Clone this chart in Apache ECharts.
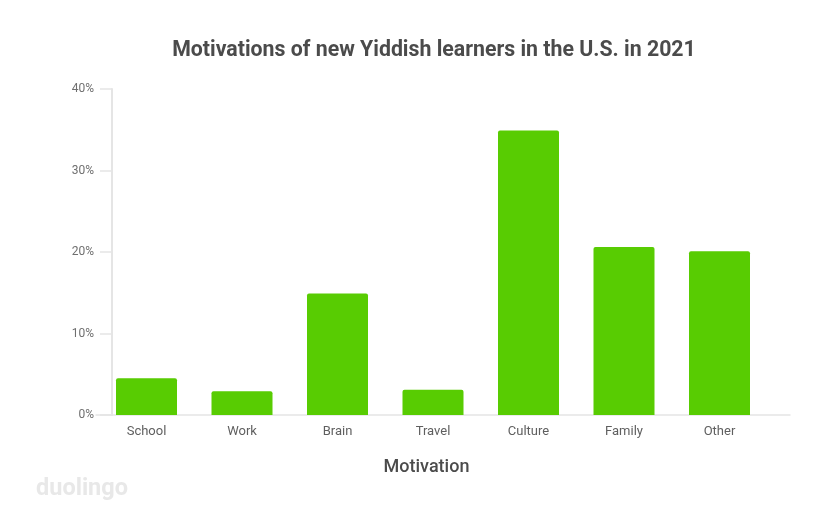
<!DOCTYPE html>
<html>
<head>
<meta charset="utf-8">
<script src="https://cdn.jsdelivr.net/npm/echarts@6/dist/echarts.min.js"></script>
<style>html,body{margin:0;padding:0;background:#fff}#c{width:828px;height:523px}</style>
</head>
<body>
<div id="c"></div>
<script>
const categories = ['School', 'Work', 'Brain', 'Travel', 'Culture', 'Family', 'Other'];
const shares = [4.5, 2.9, 14.9, 3.1, 34.9, 20.6, 20.1];
const yTicks = [0, 10, 20, 30, 40];

const chart = echarts.init(document.getElementById('c'), null, {renderer: 'canvas'});
const FONT = 'Roboto';
chart.setOption({
  animation: false,
  backgroundColor: '#ffffff',
  title: {
    text: 'Motivations of new Yiddish learners in the U.S. in 2021',
    left: 429, top: 35, textAlign: 'center',
    textStyle: {fontFamily: FONT, fontSize: 21.3, fontWeight: 'bold', color: '#4b4b4b'}
  },
  graphic: [{
    type: 'text', left: 36, top: 477,
    style: {text: 'duolingo', fontFamily: FONT, fontSize: 23.5, fontWeight: 'bold', fill: '#e8e8e8'}
  }],
  grid: [
    {left: 98.75, right: 60.75, top: 89, bottom: 108},
    {left: 96, right: 38, top: 89, bottom: 108}
  ],
  xAxis: [{
    type: 'category', gridIndex: 0, data: categories,
    axisLine: {show: false}, axisTick: {show: false},
    axisLabel: {margin: 10, fontFamily: FONT, fontSize: 13, color: '#5f5f5f'},
    name: 'Motivation', nameLocation: 'middle', nameGap: 43,
    nameTextStyle: {fontFamily: FONT, fontSize: 18, fontWeight: 500, color: '#4b4b4b', padding: [0, 13, 0, 0]}
  }, {
    type: 'category', gridIndex: 1, data: categories,
    axisLine: {show: true, lineStyle: {color: '#e5e5e5', width: 1.5}},
    axisTick: {show: false}, axisLabel: {show: false}
  }],
  yAxis: [{
    type: 'value', gridIndex: 0, min: 0, max: 40, interval: 10, offset: -13.25,
    axisLine: {show: true, lineStyle: {color: '#e5e5e5', width: 2}},
    axisTick: {show: true, length: 12, lineStyle: {color: '#e5e5e5', width: 1.5}},
    splitLine: {show: false},
    axisLabel: {margin: 18, fontFamily: FONT, fontSize: 12, color: '#6f6f6f',
      formatter: v => yTicks.includes(v) ? v + '%' : ''}
  }, {
    type: 'value', gridIndex: 1, min: 0, max: 40, show: false
  }],
  series: [{
    type: 'bar', xAxisIndex: 0, yAxisIndex: 0, data: shares,
    barWidth: 61,
    itemStyle: {color: '#58cc02', borderRadius: [2, 2, 0, 0]}
  }]
});
</script>
</body>
</html>
